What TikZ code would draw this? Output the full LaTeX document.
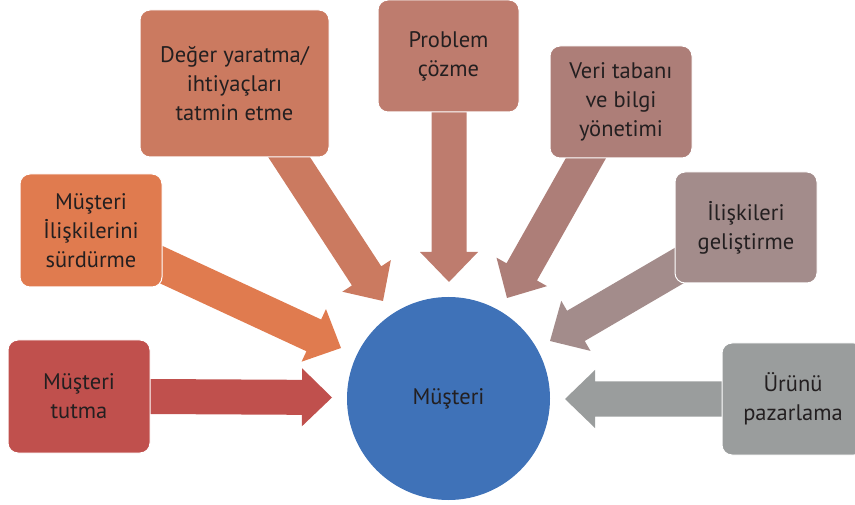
\documentclass[tikz,border=0pt]{standalone}
\usepackage{fontspec}
\setmainfont{PT Sans}
\usetikzlibrary{calc}
\definecolor{txt}{HTML}{231F20}
\definecolor{cTutma}{HTML}{C0504D}
\definecolor{cSurdur}{HTML}{E07B4F}
\definecolor{cDeger}{HTML}{CB7A60}
\definecolor{cProb}{HTML}{BE7C6E}
\definecolor{cVeri}{HTML}{AD7E78}
\definecolor{cGelis}{HTML}{A38C8B}
\definecolor{cUrun}{HTML}{9A9D9D}
\definecolor{cCirc}{HTML}{3F72B8}
\pgfdeclarelayer{bg}
\pgfsetlayers{bg,main}
\newcommand\blockarrow[3]{%
  \coordinate (Sb) at ($(#2)!-25pt!(#3)$);
  \coordinate (Hb) at ($(#3)!30pt!(#2)$);
  \fill[#1] ($(Sb)!17.5pt!90:(#3)$) -- ($(Hb)!17.5pt!90:(#3)$) -- ($(Hb)!29pt!90:(#3)$) -- (#3)
    -- ($(Hb)!29pt!-90:(#3)$) -- ($(Hb)!17.5pt!-90:(#3)$) -- ($(Sb)!17.5pt!-90:(#3)$) -- cycle;}
\begin{document}
\begin{tikzpicture}[x=1pt,y=-1pt,
  box/.style={rectangle, rounded corners=10pt, draw=white, line width=1pt, text=txt,
    align=center, font=\fontsize{22.5}{29}\selectfont, inner sep=0pt,
    minimum width=142pt, minimum height=112pt},
  hub/.style={circle, fill=cCirc, text=txt, inner sep=0pt, minimum size=203pt,
    font=\fontsize{22.5}{29}\selectfont}]
\useasboundingbox (0,0) rectangle (855,505);

\node[hub] (m) at (448.5,398.5) {Müşteri};

\node[box, fill=cTutma, minimum height=113pt] (tutma) at (79,396.5) {Müşteri\\tutma};
\node[box, fill=cSurdur, minimum height=113pt] (surdur) at (91,230.5) {Müşteri\\İlişkilerini\\sürdürme};
\node[box, fill=cDeger, minimum width=189pt, minimum height=147pt] (deger) at (234.5,83.5) {Değer yaratma/\\ihtiyaçları\\tatmin etme};
\node[box, fill=cProb, minimum width=141pt] (prob) at (448.5,56) {Problem\\çözme};
\node[box, fill=cVeri] (veri) at (621,102) {Veri tabanı\\ve bilgi\\yönetimi};
\node[box, fill=cGelis, minimum height=111pt] (gelis) at (746,227.5) {İlişkileri\\geliştirme};
\node[box, fill=cUrun] (urun) at (793,399) {Ürünü\\pazarlama};

\coordinate (s1) at (tutma.east);
\coordinate (t1) at (332,397.5);
\coordinate (s2) at (162,265);
\coordinate (t2) at (341,348);
\coordinate (s3) at (289,157);
\coordinate (t3) at (383,301);
\coordinate (s4) at (449,112);
\coordinate (t4) at (449,282);
\coordinate (s5) at (586,158);
\coordinate (t5) at (507,298);
\coordinate (s6) at (675,268);
\coordinate (t6) at (550,341);
\coordinate (s7) at (urun.west);
\coordinate (t7) at (565,399);

\begin{pgfonlayer}{bg}
\blockarrow{cTutma}{s1}{t1}
\blockarrow{cSurdur}{s2}{t2}
\blockarrow{cDeger}{s3}{t3}
\blockarrow{cProb}{s4}{t4}
\blockarrow{cVeri}{s5}{t5}
\blockarrow{cGelis}{s6}{t6}
\blockarrow{cUrun}{s7}{t7}
\end{pgfonlayer}
\end{tikzpicture}
\end{document}
